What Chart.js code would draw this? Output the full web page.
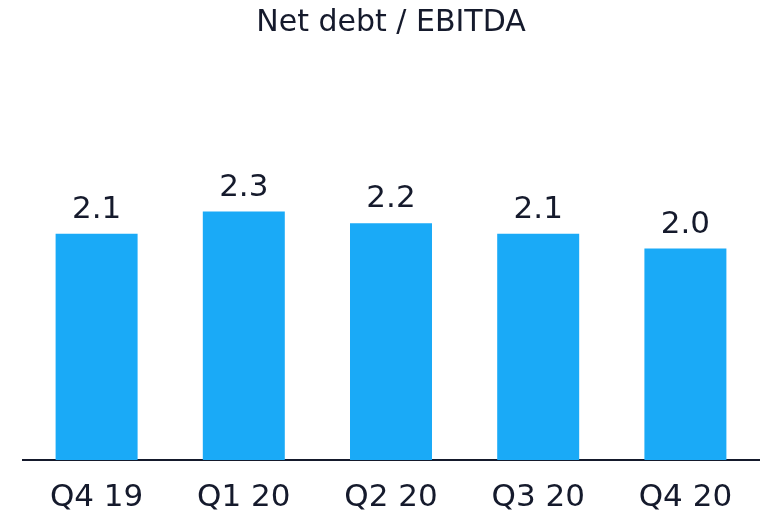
<!DOCTYPE html>
<html lang="en">
<head>
  <meta charset="UTF-8" />
  <title>Net debt / EBITDA</title>
  <script src="https://cdn.jsdelivr.net/npm/chart.js"></script>
  <style>
    html, body { margin: 0; padding: 0; background: #fff; }
    .chart-area { width: 768px; height: 513px; }
  </style>
</head>
<body>
  <div class="chart-area">
    <canvas id="barChart"></canvas>
  </div>

  <script>
    // data
    const quarters = ['Q4 19', 'Q1 20', 'Q2 20', 'Q3 20', 'Q4 20'];
    const ratios = [2.14, 2.35, 2.24, 2.14, 2.0];
    const ratioLabels = ['2.1', '2.3', '2.2', '2.1', '2.0'];

    const textColor = '#151a2c';
    const fontFamily = '"DejaVu Sans", Verdana, sans-serif';

    // value labels above bars
    const valueLabels = {
      id: 'valueLabels',
      afterDatasetsDraw(chart) {
        const ctx = chart.ctx;
        const meta = chart.getDatasetMeta(0);
        ctx.save();
        ctx.font = '31px ' + fontFamily;
        ctx.fillStyle = textColor;
        ctx.textAlign = 'center';
        ctx.textBaseline = 'alphabetic';
        meta.data.forEach((bar, i) => {
          ctx.fillText(ratioLabels[i], bar.x, bar.y - 16);
        });
        ctx.restore();
      }
    };

    const ctx = document.getElementById('barChart').getContext('2d');
    const barChart = new Chart(ctx, {
      type: 'bar',
      data: {
        labels: quarters,
        datasets: [{
          data: ratios,
          backgroundColor: '#1aaaf7',
          barPercentage: 0.557,
          categoryPercentage: 1
        }]
      },
      options: {
        responsive: true,
        maintainAspectRatio: false,
        animation: false,
        layout: { padding: { left: 23, right: 9, top: 0, bottom: 0 } },
        plugins: {
          legend: { display: false },
          tooltip: { enabled: false },
          title: {
            display: true,
            text: 'Net debt / EBITDA',
            color: textColor,
            font: { family: fontFamily, size: 30, weight: 'normal' },
            padding: { top: 5, bottom: 49 }
          }
        },
        scales: {
          x: {
            grid: { display: false, drawTicks: false },
            border: { display: true, color: '#151a2c', width: 2 },
            ticks: {
              color: textColor,
              font: { family: fontFamily, size: 31 },
              padding: 19
            },
            afterFit(scale) {
              scale.height = 53;
            }
          },
          y: {
            display: false,
            min: 0,
            max: 3.5
          }
        }
      },
      plugins: [valueLabels]
    });
  </script>
</body>
</html>
